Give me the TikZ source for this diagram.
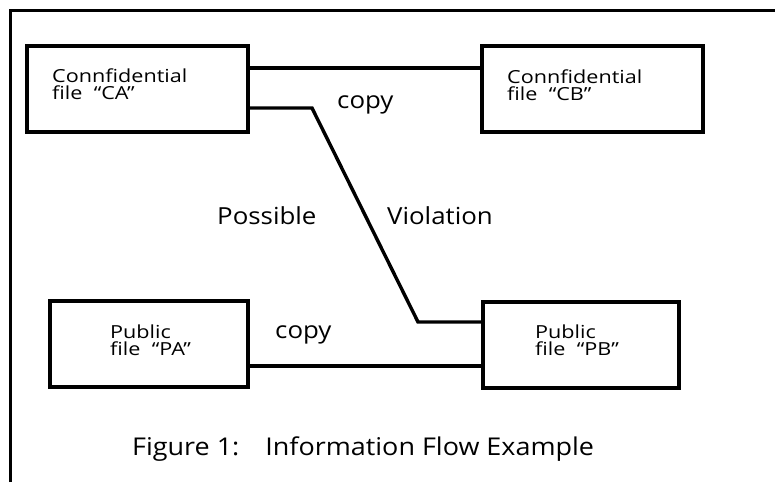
\documentclass[tikz,border=0pt]{standalone}
\usepackage{fontspec}
\setmainfont{Open Sans}[FakeStretch=1.1,Ligatures=TeX]
\newfontfamily\filefont{Open Sans}[FakeStretch=1.2,Ligatures=TeX]
\begin{document}
\begin{tikzpicture}[x=1pt,y=-1pt,
  filebox/.style={draw,line width=4pt,minimum width=#1,minimum height=86pt,inner sep=0pt},
  boxtext/.style={anchor=north west,align=left,font=\filefont\fontsize{18}{16.5}\selectfont,inner sep=0pt},
  label/.style={anchor=base west,font=\fontsize{23.5}{26}\selectfont,inner sep=0pt},
  wire/.style={line width=3.4pt,line join=miter}]
\useasboundingbox (0,0) rectangle (775,482);
% outer frame (top and left edges)
\draw[line width=3pt] (10,482) -- (10,10) -- (775,10);

% file boxes
\node[filebox=221pt] (CA) at (137.5,89) {};
\node[filebox=221pt] (CB) at (592.5,89) {};
\node[filebox=198pt] (PA) at (149,344) {};
\node[filebox=196pt] (PB) at (581,345) {};

\node[boxtext] (tCA) at (52,69) {Connfidential\\file\ \ “CA”};
\node[boxtext] (tCB) at (507,70) {Connfidential\\file\ \ “CB”};
\node[boxtext] (tPA) at (110,325) {Public\\file\ \ “PA”};
\node[boxtext] (tPB) at (535,325) {Public\\file\ \ “PB”};

% connectors
\draw[wire] ([yshift=21pt]CA.east) -- ([yshift=21pt]CB.west);
\coordinate (b1) at (312,108);
\coordinate (b2) at (418,322);
\draw[wire] ([yshift=-19pt]CA.east) -- (b1) -- (b2) -- ([yshift=23pt]PB.west);
\draw[wire] ([yshift=-22pt]PA.east) -- ([yshift=-21pt]PB.west);

% labels
\node[label] (copy1) at (337,108) {copy};
\node[label] (copy2) at (275,338) {copy};
\node[label] (poss) at (217,224) {Possible};
\node[label] (viol) at (387,224) {Violation};
\node[label,font=\fontsize{24.5}{27}\selectfont] (cap) at (132,455) {Figure 1:\hspace{26pt}Information Flow Example};
\end{tikzpicture}
\end{document}
